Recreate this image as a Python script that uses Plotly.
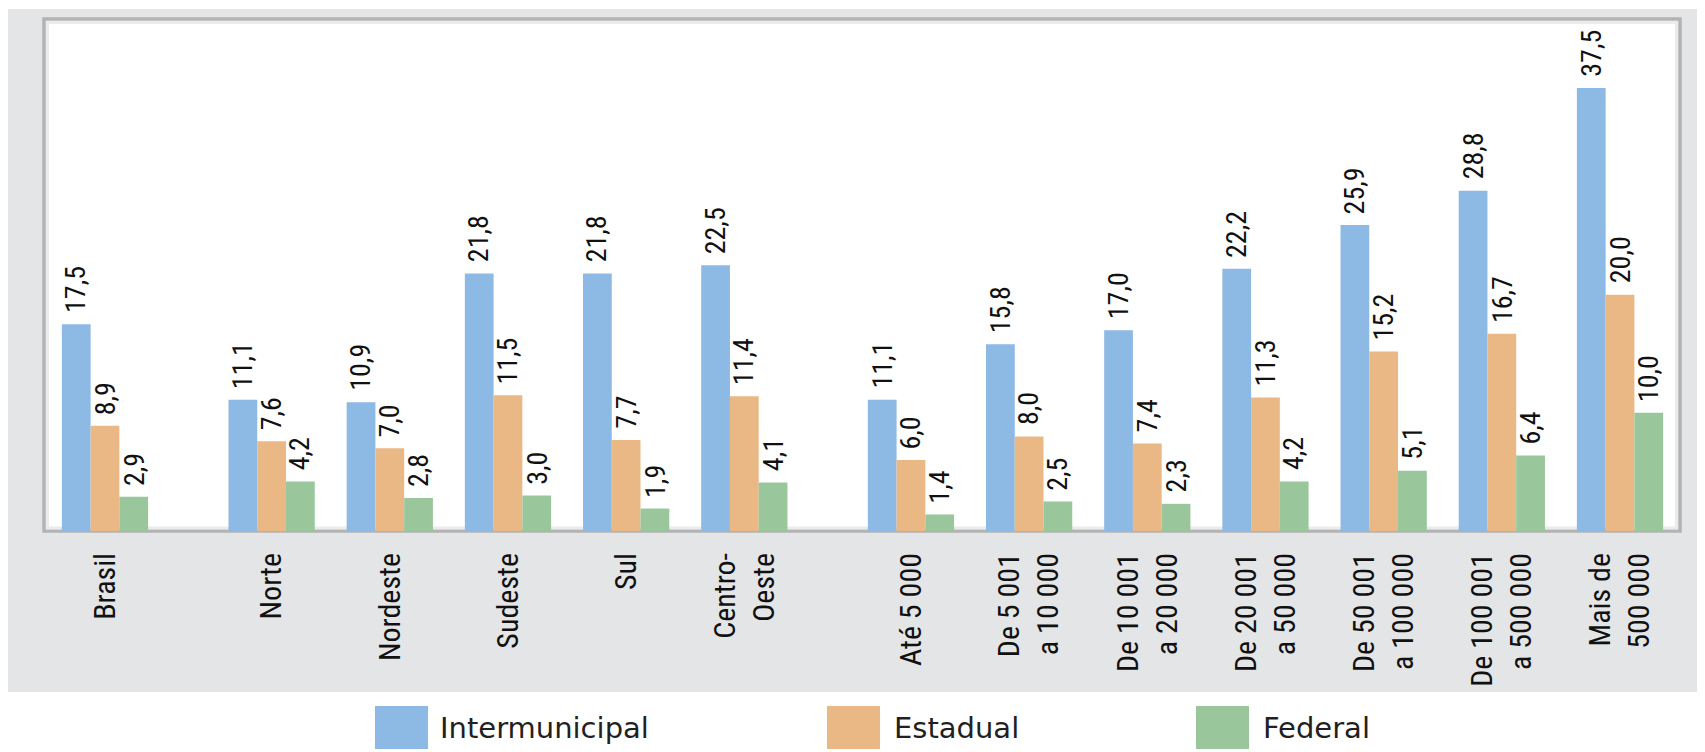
import plotly.graph_objects as go

# ---- data ----
categories = ["Brasil", "Norte", "Nordeste", "Sudeste", "Sul", "Centro-<br>Oeste",
              "Até 5 000", "De 5 001<br>a 10 000", "De 10 001<br>a 20 000",
              "De 20 001<br>a 50 000", "De 50 001<br>a 100 000",
              "De 100 001<br>a 500 000", "Mais de<br>500 000"]
intermunicipal = [17.5, 11.1, 10.9, 21.8, 21.8, 22.5, 11.1, 15.8, 17.0, 22.2, 25.9, 28.8, 37.5]
estadual = [8.9, 7.6, 7.0, 11.5, 7.7, 11.4, 6.0, 8.0, 7.4, 11.3, 15.2, 16.7, 20.0]
federal = [2.9, 4.2, 2.8, 3.0, 1.9, 4.1, 1.4, 2.5, 2.3, 4.2, 5.1, 6.4, 10.0]
series_names = ["Intermunicipal", "Estadual", "Federal"]
colors = ["#8DB9E5", "#EAB884", "#99C79B"]

# category positions (extra gap between the three blocks)
gap = 0.41
xpos = []
for i in range(len(categories)):
    p = float(i)
    if i >= 1:
        p += gap
    if i >= 6:
        p += gap
    xpos.append(p)

# ---- layout geometry (page pixels; the page body has an 8px margin) ----
OFF = 8
PAGE_W, PAGE_H = 1705, 752
W, H = PAGE_W - OFF, PAGE_H - OFF
PL, PR, PT, PB = 44, 1680, 19, 531          # plot area in page pixels
L, R, T, B = PL - OFF, W - (PR - OFF), PT - OFF, H - (PB - OFF)
PW, PH = PR - PL, PB - PT
UNIT_X = 118.2        # px per category step
UNIT_Y = (PB - 88) / 37.5

def px(x):
    return (x - PL) / PW

def py(y):
    return (PB - y) / PH

bw = 0.2433
offsets = [-1.5 * bw, -0.5 * bw, 0.5 * bw]
narrow = "Liberation Sans Narrow, Arial Narrow, Roboto Condensed, DejaVu Sans Condensed, Liberation Sans, sans-serif"
txtcolor = "#111111"

fig = go.Figure()
annotations = []
all_series = [intermunicipal, estadual, federal]
for name, vals, col, off in zip(series_names, all_series, colors, offsets):
    fig.add_trace(go.Bar(
        x=xpos, y=vals, name=name, width=bw, offset=off,
        marker=dict(color=col, line=dict(width=0)),
        showlegend=False, hoverinfo="y+name"))
    for xp, v in zip(xpos, vals):
        annotations.append(dict(
            x=xp + off + bw / 2, y=v, xref="x", yref="y",
            text=f"{v:.1f}".replace(".", ","), textangle=-90,
            showarrow=False, xanchor="center", yanchor="bottom", yshift=9,
            font=dict(family=narrow, size=28, color=txtcolor)))

# manual legend
legend_boxes = [(375, 428), (827, 880), (1196, 1249)]
legend_text_x = [438, 892, 1261]
shapes = [
    dict(type="rect", xref="paper", yref="paper", x0=px(OFF), x1=px(PAGE_W + 10), y0=py(692), y1=py(9),
         fillcolor="#E4E5E7", line=dict(width=0), layer="below"),
    dict(type="rect", xref="paper", yref="paper", x0=0, x1=1, y0=0, y1=1,
         fillcolor="#FFFFFF", line=dict(color="#B3B3B3", width=3.5), layer="below"),
    dict(type="rect", xref="paper", yref="paper", x0=px(PL + 3.5), x1=px(PR - 3.5),
         y0=py(PB - 3), y1=py(PT + 3.5),
         fillcolor="rgba(0,0,0,0)", line=dict(color="#EBEBEB", width=3), layer="below"),
]
for (x0, x1), col, tx, name in zip(legend_boxes, colors, legend_text_x, series_names):
    shapes.append(dict(type="rect", xref="paper", yref="paper", x0=px(x0), x1=px(x1),
                       y0=py(749), y1=py(706), fillcolor=col, line=dict(width=0)))
    annotations.append(dict(x=px(tx), y=py(728), xref="paper", yref="paper", text=name,
                            showarrow=False, xanchor="left", yanchor="middle",
                            font=dict(family="DejaVu Sans, sans-serif", size=29, color="#231F20")))

fig.update_layout(
    width=W, height=H, autosize=False,
    margin=dict(l=L, r=R, t=T, b=B, pad=0),
    paper_bgcolor="#FFFFFF", plot_bgcolor="#FFFFFF",
    barmode="overlay", showlegend=False,
    shapes=shapes, annotations=annotations,
    xaxis=dict(range=[-(105 - PL) / UNIT_X, xpos[-1] + (PR - 1620) / UNIT_X],
               tickmode="array", tickvals=xpos, ticktext=categories, tickangle=-90,
               ticks="outside", ticklen=9, tickcolor="rgba(0,0,0,0)",
               showgrid=False, zeroline=False, showline=False,
               tickfont=dict(family=narrow, size=30, color=txtcolor)),
    yaxis=dict(range=[0, PH / UNIT_Y], showgrid=False, zeroline=False, showline=False,
               showticklabels=False, ticks=""),
)

fig.write_html("out.html")
